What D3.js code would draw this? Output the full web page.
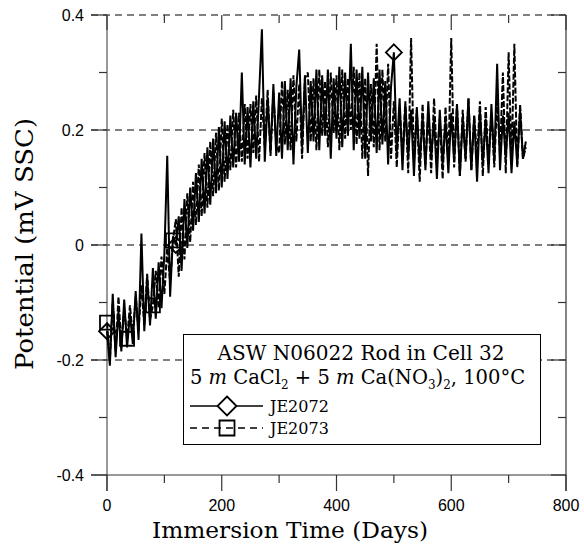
<!DOCTYPE html>
<html>
<head>
<meta charset="utf-8">
<script src="https://cdn.jsdelivr.net/npm/d3@7"></script>
<style>
  body { margin: 0; background: #fff; }
  svg { display: block; }
</style>
</head>
<body>
<svg id="chart" width="584" height="552"></svg>
<script>
// measurement days (both rods read on the same days)
const days = [
  0, 5, 10, 15, 20, 25, 30, 35, 40, 45,
  50, 55, 60, 65, 70, 75, 80, 85, 90, 95,
  100, 105, 110, 115, 120, 125, 130, 135, 140, 145,
  150, 155, 160, 165, 170, 175, 180, 185, 190, 195,
  200, 205, 210, 215, 220, 225, 230, 235, 240, 245,
  250, 255, 260, 265, 270, 275, 280, 285, 290, 295,
  300, 305, 310, 315, 320, 325, 330, 335, 340, 345,
  350, 355, 360, 365, 370, 375, 380, 385, 390, 395,
  400, 405, 410, 415, 420, 425, 430, 435, 440, 445,
  450, 455, 460, 465, 470, 475, 480, 485, 490, 495,
  500, 505, 510, 515, 520, 525, 530, 535, 540, 545,
  550, 555, 560, 565, 570, 575, 580, 585, 590, 595,
  600, 605, 610, 615, 620, 625, 630, 635, 640, 645,
  650, 655, 660, 665, 670, 675, 680, 685, 690, 695,
  700, 705, 710, 715, 720, 725, 730
];

const je2072 = [
  -0.150, -0.210, -0.085, -0.195, -0.115, -0.185, -0.095, -0.178, -0.120, -0.172,
  -0.080, -0.165, 0.020, -0.150, -0.055, -0.140, -0.040, -0.128, -0.030, -0.110,
  -0.015, 0.155, -0.090, 0.015, 0.000, 0.050, -0.045, 0.080, -0.005, 0.100,
  0.025, 0.125, 0.040, 0.150, 0.055, 0.170, 0.070, 0.185, 0.090, 0.205,
  0.100, 0.215, 0.115, 0.225, 0.135, 0.230, 0.145, 0.300, 0.140, 0.240,
  0.135, 0.250, 0.150, 0.260, 0.375, 0.145, 0.255, 0.160, 0.280, 0.155,
  0.265, 0.150, 0.285, 0.165, 0.290, 0.140, 0.275, 0.340, 0.170, 0.295,
  0.160, 0.285, 0.180, 0.305, 0.165, 0.295, 0.190, 0.305, 0.150, 0.290,
  0.185, 0.310, 0.170, 0.300, 0.190, 0.350, 0.165, 0.305, 0.185, 0.310,
  0.150, 0.300, 0.180, 0.290, 0.160, 0.305, 0.175, 0.285, 0.140, 0.275,
  0.335, 0.160, 0.255, 0.130, 0.245, 0.155, 0.235, 0.120, 0.240, 0.140,
  0.225, 0.130, 0.250, 0.150, 0.220, 0.115, 0.235, 0.140, 0.215, 0.125,
  0.230, 0.145, 0.245, 0.120, 0.220, 0.150, 0.255, 0.130, 0.225, 0.110,
  0.235, 0.140, 0.220, 0.125, 0.245, 0.145, 0.315, 0.130, 0.225, 0.150,
  0.230, 0.125, 0.215, 0.140, 0.235, 0.150, 0.180
];

const je2073 = [
  -0.135, -0.200, -0.100, -0.185, -0.090, -0.175, -0.110, -0.163, -0.105, -0.160,
  -0.090, -0.150, -0.070, -0.140, -0.050, -0.130, -0.105, -0.045, -0.110, -0.020,
  -0.085, -0.005, -0.065, 0.008, 0.045, -0.055, 0.065, -0.025, 0.090, 0.005,
  0.110, 0.035, 0.140, 0.050, 0.160, 0.065, 0.180, 0.085, 0.195, 0.095,
  0.220, 0.110, 0.210, 0.130, 0.235, 0.135, 0.230, 0.145, 0.245, 0.150,
  0.245, 0.160, 0.260, 0.145, 0.255, 0.170, 0.270, 0.155, 0.265, 0.175,
  0.160, 0.285, 0.175, 0.270, 0.165, 0.295, 0.180, 0.280, 0.150, 0.290,
  0.300, 0.180, 0.290, 0.165, 0.305, 0.190, 0.285, 0.170, 0.300, 0.195,
  0.295, 0.165, 0.305, 0.185, 0.290, 0.200, 0.310, 0.175, 0.300, 0.150,
  0.290, 0.120, 0.280, 0.170, 0.350, 0.165, 0.305, 0.180, 0.315, 0.150,
  0.250, 0.135, 0.240, 0.155, 0.250, 0.125, 0.360, 0.145, 0.235, 0.110,
  0.245, 0.140, 0.230, 0.125, 0.255, 0.150, 0.220, 0.115, 0.240, 0.145,
  0.360, 0.135, 0.245, 0.120, 0.235, 0.145, 0.255, 0.130, 0.225, 0.150,
  0.250, 0.120, 0.240, 0.145, 0.230, 0.135, 0.255, 0.155, 0.300, 0.125,
  0.335, 0.145, 0.350, 0.135, 0.245, 0.150, 0.170
];

// days that carry a plot symbol
const diamondDays = [0, 120, 500];
const squareDays = [0, 35, 80, 115];

const xTicks = [0, 200, 400, 600, 800];
const yTicks = [-0.4, -0.2, 0, 0.2, 0.4];
const gridValues = [-0.2, 0, 0.2, 0.4];

const svg = d3.select('#chart');
const pLeft = 107, pRight = 566, pTop = 15, pBottom = 475;

const x = d3.scaleLinear().domain([0, 800]).range([pLeft, pRight]);
const y = d3.scaleLinear().domain([-0.4, 0.4]).range([pBottom, pTop]);

const sans = 'Liberation Sans, Arial, sans-serif';
const serif = 'DejaVu Serif, serif';

// dashed gridlines (they also reach out to the tick labels)
svg.append('g').selectAll('line')
  .data(gridValues)
  .enter().append('line')
  .attr('x1', pLeft - 16).attr('x2', pRight)
  .attr('y1', d => y(d)).attr('y2', d => y(d))
  .attr('stroke', '#000')
  .attr('stroke-width', 1)
  .attr('stroke-dasharray', '7 5');

// frame
svg.append('line')
  .attr('x1', pLeft).attr('x2', pLeft).attr('y1', pTop).attr('y2', pBottom + 16)
  .attr('stroke', '#555').attr('stroke-width', 1.2);
svg.append('line')
  .attr('x1', pLeft - 16).attr('x2', pRight).attr('y1', pBottom).attr('y2', pBottom)
  .attr('stroke', '#333').attr('stroke-width', 1.2);
svg.append('line')
  .attr('x1', pRight).attr('x2', pRight).attr('y1', pTop).attr('y2', pBottom + 16)
  .attr('stroke', '#333').attr('stroke-width', 1.2);

// ticks
const xMinor = d3.range(0, 801, 100);
const yMinor = d3.range(-4, 5).map(d => d / 10);
const tickG = svg.append('g').attr('stroke', '#333').attr('stroke-width', 1.2);
xMinor.forEach(v => {
  const major = v % 200 === 0;
  tickG.append('line').attr('x1', x(v)).attr('x2', x(v)).attr('y1', pBottom).attr('y2', pBottom + (major ? 16 : 8));
  tickG.append('line').attr('x1', x(v)).attr('x2', x(v)).attr('y1', pTop).attr('y2', pTop + (major ? 15 : 8));
});
yMinor.forEach(v => {
  const major = Math.round(v * 10) % 2 === 0;
  tickG.append('line').attr('x1', pLeft - (major ? 16 : 8)).attr('x2', pLeft).attr('y1', y(v)).attr('y2', y(v));
  tickG.append('line').attr('x1', pRight - (major ? 15 : 8)).attr('x2', pRight).attr('y1', y(v)).attr('y2', y(v));
});

// tick labels
svg.append('g').selectAll('text')
  .data(xTicks)
  .enter().append('text')
  .attr('x', d => x(d))
  .attr('y', 511)
  .attr('text-anchor', 'middle')
  .attr('font-family', sans)
  .attr('font-size', 16)
  .text(d => d);

svg.append('g').selectAll('text')
  .data(yTicks)
  .enter().append('text')
  .attr('x', 84)
  .attr('y', d => y(d) + 6)
  .attr('text-anchor', 'end')
  .attr('font-family', sans)
  .attr('font-size', 16)
  .text(d => d === 0 ? '0' : d.toFixed(1));

// axis titles
svg.append('text')
  .attr('x', 290).attr('y', 538)
  .attr('text-anchor', 'middle')
  .attr('font-family', serif)
  .attr('font-size', 23)
  .attr('textLength', 276)
  .attr('lengthAdjust', 'spacingAndGlyphs')
  .text('Immersion Time (Days)');

svg.append('text')
  .attr('transform', 'translate(33,244) rotate(-90)')
  .attr('text-anchor', 'middle')
  .attr('font-family', serif)
  .attr('font-size', 25)
  .attr('textLength', 252)
  .attr('lengthAdjust', 'spacingAndGlyphs')
  .text('Potential (mV SSC)');

// series
const line = d3.line()
  .x((d, i) => x(days[i]))
  .y(d => y(d));

const plot = svg.append('g');
plot.append('path')
  .datum(je2073)
  .attr('d', line)
  .attr('fill', 'none')
  .attr('stroke', '#000')
  .attr('stroke-width', 2)
  .attr('stroke-dasharray', '6 2');
plot.append('path')
  .datum(je2072)
  .attr('d', line)
  .attr('fill', 'none')
  .attr('stroke', '#000')
  .attr('stroke-width', 2);

const diamond = (cx, cy, r) => `M${cx},${cy - r}L${cx + r},${cy}L${cx},${cy + r}L${cx - r},${cy}Z`;
const square = (cx, cy, r) => `M${cx - r},${cy - r}H${cx + r}V${cy + r}H${cx - r}Z`;

plot.selectAll('.dia')
  .data(diamondDays)
  .enter().append('path')
  .attr('class', 'dia')
  .attr('d', d => diamond(x(d), y(je2072[days.indexOf(d)]), 8))
  .attr('fill', 'none').attr('stroke', '#000').attr('stroke-width', 1.8);

plot.selectAll('.sq')
  .data(squareDays)
  .enter().append('path')
  .attr('class', 'sq')
  .attr('d', d => square(x(d), y(je2073[days.indexOf(d)]), 7))
  .attr('fill', 'none').attr('stroke', '#000').attr('stroke-width', 1.8);

// legend
const lg = svg.append('g');
lg.append('rect')
  .attr('x', 183.5).attr('y', 334.5).attr('width', 357).attr('height', 110)
  .attr('fill', '#fff').attr('stroke', '#000').attr('stroke-width', 1);

lg.append('text')
  .attr('x', 361).attr('y', 360)
  .attr('text-anchor', 'middle')
  .attr('font-family', serif).attr('font-size', 20)
  .attr('textLength', 287)
  .attr('lengthAdjust', 'spacingAndGlyphs')
  .text('ASW N06022 Rod in Cell 32');

const t2 = lg.append('text')
  .attr('x', 190).attr('y', 384)
  .attr('font-family', serif).attr('font-size', 19.5);
t2.append('tspan').text('5 ');
t2.append('tspan').attr('font-style', 'italic').text('m');
t2.append('tspan').text(' CaCl');
t2.append('tspan').attr('font-size', 12).attr('dy', 5).text('2');
t2.append('tspan').attr('dy', -5).text(' + 5 ');
t2.append('tspan').attr('font-style', 'italic').text('m');
t2.append('tspan').text(' Ca(NO');
t2.append('tspan').attr('font-size', 12).attr('dy', 5).text('3');
t2.append('tspan').attr('dy', -5).text(')');
t2.append('tspan').attr('font-size', 12).attr('dy', 5).text('2');
t2.append('tspan').attr('dy', -5).text(', 100°C');

const legendRows = [
  { name: 'JE2072', y: 406, dash: null, shape: diamond, r: 9.5 },
  { name: 'JE2073', y: 428, dash: '7 5', shape: square, r: 7.5 }
];
legendRows.forEach(row => {
  lg.append('line')
    .attr('x1', 190).attr('x2', 263)
    .attr('y1', row.y).attr('y2', row.y)
    .attr('stroke', '#000').attr('stroke-width', 1.3)
    .attr('stroke-dasharray', row.dash);
  lg.append('path')
    .attr('d', row.shape(227, row.y, row.r))
    .attr('fill', row.shape === diamond ? '#fff' : 'none')
    .attr('stroke', '#000').attr('stroke-width', 1.8);
  lg.append('text')
    .attr('x', 270).attr('y', row.y + 6)
    .attr('font-family', serif).attr('font-size', 16)
    .text(row.name);
});
</script>
</body>
</html>
